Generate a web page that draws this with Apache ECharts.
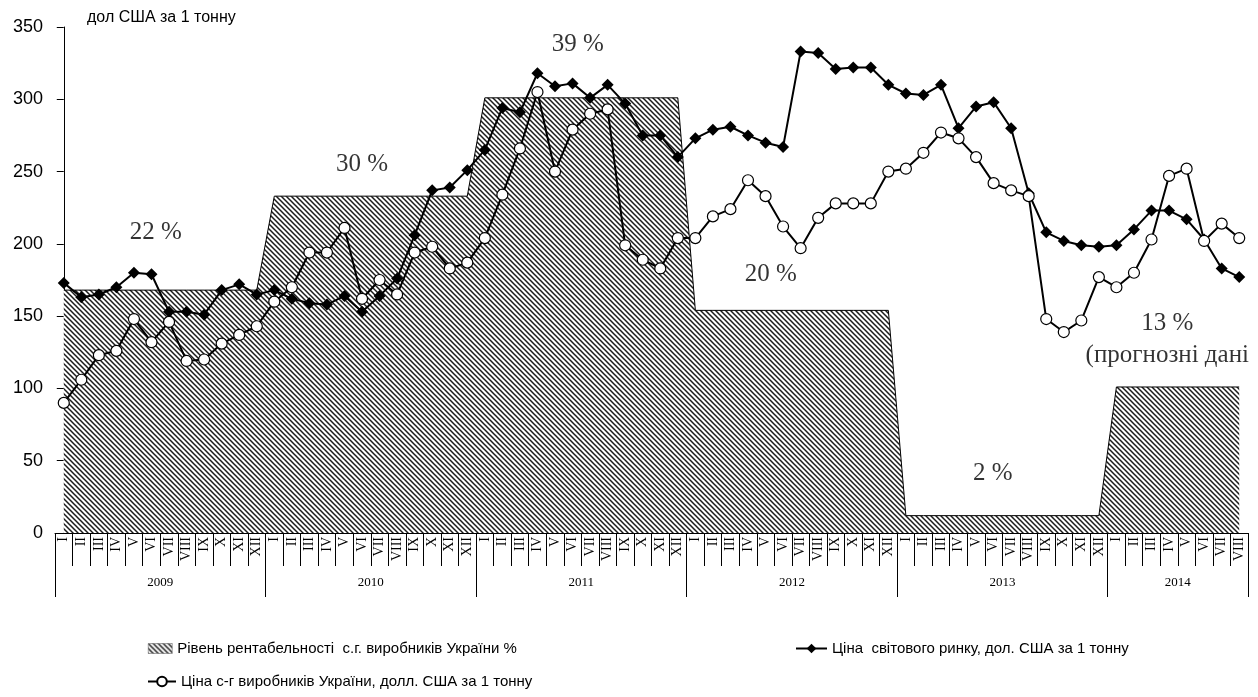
<!DOCTYPE html>
<html><head><meta charset="utf-8">
<script src="https://cdn.jsdelivr.net/npm/echarts@6/dist/echarts.min.js"></script>
<style>html,body{margin:0;padding:0;background:#fff}#c{width:1258px;height:697px}</style>
</head><body><div id="c"></div>
<script>
// ---------- data ----------
const years = ['2009', '2010', '2011', '2012', '2013', '2014'];
const monthsPerYear = [12, 12, 12, 12, 12, 8];
const romanMonths = ['I','II','III','IV','V','VI','VII','VIII','IX','X','XI','XII'];
const profitPct = [22, 30, 39, 20, 2, 13];
const profitLevel = [168, 233, 301, 154, 12, 101];   // height of the hatched band per year
const worldPrice = [
  173, 163, 165, 170, 180, 179, 153, 153, 151, 168, 172, 165,
  168, 162, 159, 158, 164, 153, 164, 176, 206, 237, 239, 251,
  265, 294, 291, 318, 309, 311, 301, 310, 297, 275, 275, 260,
  273, 279, 281, 275, 270, 267, 333, 332, 321, 322, 322, 310,
  304, 303, 310, 280, 295, 298, 280, 235, 208, 202, 199, 198,
  199, 210, 223, 223, 217, 203, 183, 177
];
const ukrPrice = [
  90, 106, 123, 126, 148, 132, 146, 119, 120, 131, 137, 143,
  160, 170, 194, 194, 211, 162, 175, 165, 194, 198, 183, 187,
  204, 234, 266, 305, 250, 279, 290, 293, 199, 189, 183, 204,
  204, 219, 224, 244, 233, 212, 197, 218, 228, 228, 228, 250,
  252, 263, 277, 273, 260, 242, 237, 233, 148, 139, 147, 177,
  170, 180, 203, 247, 252, 202, 214, 204
];
const yMin = 0, yMax = 350, yStep = 50;
const seriesNames = [
  'Рівень рентабельності  с.г. виробників України %',
  'Ціна  світового ринку, дол. США за 1 тонну',
  'Ціна с-г виробників України, долл. США за 1 тонну'
];
const unitTitle = 'дол США за 1 тонну';
// annotation texts (percent labels), positioned in month-index / value space
const annotations = [
  { text: profitPct[0] + ' %', x: 5.25, y: 208 },
  { text: profitPct[1] + ' %', x: 17.0, y: 255 },
  { text: profitPct[2] + ' %', x: 29.3, y: 338 },
  { text: profitPct[3] + ' %', x: 40.3, y: 179 },
  { text: profitPct[4] + ' %', x: 52.95, y: 41 },
  { text: profitPct[5] + ' %\n(прогнозні дані', x: 62.9, y: 134 }
];

// ---------- derived ----------
const monthLabels = [], yearOfMonth = [], levelPerMonth = [];
const yearLabelIdx = [], yearStarts = [];
let start = 0;
years.forEach((y, yi) => {
  yearStarts.push(start);
  for (let m = 0; m < monthsPerYear[yi]; m++) {
    monthLabels.push(romanMonths[m]);
    yearOfMonth.push(y);
    levelPerMonth.push(profitLevel[yi]);
  }
  yearLabelIdx.push(start + Math.floor(monthsPerYear[yi] / 2));
  start += monthsPerYear[yi];
});
const nCat = monthLabels.length;

function hatchCanvas() {
  const s = 5, c = document.createElement('canvas');
  c.width = s; c.height = s;
  const g = c.getContext('2d');
  g.fillStyle = '#fff'; g.fillRect(0, 0, s, s);
  g.strokeStyle = '#1c1c1c'; g.lineWidth = 1.5;
  g.beginPath();
  g.moveTo(-1, -1); g.lineTo(s + 1, s + 1);
  g.moveTo(-1, s - 1); g.lineTo(1, s + 1);
  g.moveTo(s - 1, -1); g.lineTo(s + 1, 1);
  g.stroke();
  return c;
}
const hatch = { image: hatchCanvas(), repeat: 'repeat' };

const sans = 'Liberation Sans';
const serif = 'Liberation Serif';
const legendText = { fontFamily: sans, fontSize: 15, color: '#000' };

const chart = echarts.init(document.getElementById('c'), null, { renderer: 'canvas' });
chart.setOption({
  animation: false,
  backgroundColor: '#fff',
  title: {
    text: unitTitle, left: 87, top: 10, padding: 0,
    textStyle: { fontFamily: sans, fontSize: 16, fontWeight: 'normal', color: '#000' }
  },
  grid: { left: 55, right: 10, top: 27, bottom: 164, containLabel: false },
  legend: [
    {
      left: 148, top: 641, padding: 0, itemWidth: 24, itemHeight: 10, selectedMode: false,
      textStyle: legendText,
      data: [{ name: seriesNames[0], icon: 'rect', itemStyle: { color: hatch, borderColor: '#555', borderWidth: 0.5 } }]
    },
    {
      left: 795, top: 641, padding: 0, itemWidth: 31, itemHeight: 12, selectedMode: false,
      textStyle: legendText,
      data: [seriesNames[1]]
    },
    {
      left: 147, top: 674, padding: 0, itemWidth: 28, itemHeight: 12, selectedMode: false,
      textStyle: legendText,
      data: [seriesNames[2]]
    }
  ],
  xAxis: [
    {
      type: 'category', data: monthLabels, position: 'bottom', boundaryGap: true,
      axisLine: { show: true, lineStyle: { color: '#000', width: 1 } },
      axisTick: { show: true, alignWithLabel: false, interval: 0, length: 33, lineStyle: { color: '#000', width: 1 } },
      axisLabel: { show: true, interval: 0, rotate: 90, margin: 4, fontFamily: serif, fontSize: 14, color: '#000' },
      splitLine: { show: false }
    },
    {
      type: 'category', data: yearOfMonth, position: 'bottom', boundaryGap: true,
      axisLine: { show: false },
      axisTick: { show: true, interval: (i) => yearStarts.includes(i), length: 64, lineStyle: { color: '#000', width: 1 } },
      axisLabel: {
        show: true, interval: (i) => yearLabelIdx.includes(i), margin: 43,
        fontFamily: serif, fontSize: 13, color: '#000',
        padding: [0, 17.5, 0, 0]
      },
      splitLine: { show: false }
    },
    { type: 'value', show: false, min: -0.5, max: nCat - 0.5 }
  ],
  yAxis: {
    type: 'value', min: yMin, max: yMax, interval: yStep,
    axisLine: { show: true, lineStyle: { color: '#000', width: 1 } },
    axisTick: { show: true, length: 7, lineStyle: { color: '#000' } },
    axisLabel: { fontFamily: sans, fontSize: 18, color: '#000', margin: 12 },
    splitLine: { show: false }
  },
  series: [
    {
      name: seriesNames[0], type: 'line', data: levelPerMonth, xAxisIndex: 0,
      symbol: 'none', silent: true, z: 1,
      lineStyle: { color: '#000', width: 1 },
      itemStyle: { color: hatch },
      areaStyle: { color: hatch, opacity: 1 }
    },
    {
      name: seriesNames[1], type: 'line', data: worldPrice, xAxisIndex: 0,
      symbol: 'diamond', symbolSize: 12, z: 3,
      itemStyle: { color: '#000' },
      lineStyle: { color: '#000', width: 2 }
    },
    {
      name: seriesNames[2], type: 'line', data: ukrPrice, xAxisIndex: 0,
      symbol: 'circle', symbolSize: 11, z: 4,
      itemStyle: { color: '#fff', borderColor: '#000', borderWidth: 1.2 },
      lineStyle: { color: '#000', width: 2 }
    },
    {
      name: 'annotations', type: 'scatter', xAxisIndex: 2, yAxisIndex: 0,
      symbolSize: 0, silent: true, z: 10,
      data: annotations.map(a => ({ name: a.text, value: [a.x, a.y] })),
      label: {
        show: true, position: 'inside', formatter: (p) => p.name,
        fontFamily: serif, fontSize: 25, color: '#000', lineHeight: 32, align: 'center'
      }
    }
  ]
});
</script>
</body></html>
